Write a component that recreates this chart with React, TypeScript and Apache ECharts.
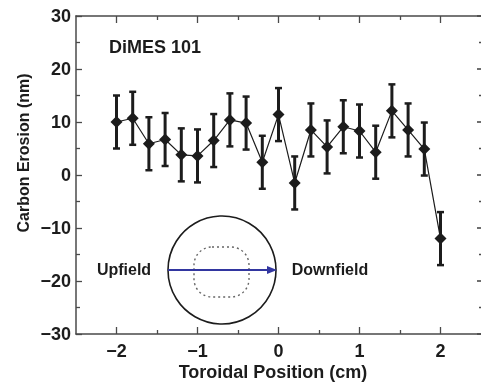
import React, { useEffect, useRef } from "react";
import * as echarts from "echarts";

const positions = [-2, -1.8, -1.6, -1.4, -1.2, -1.0, -0.8, -0.6, -0.4, -0.2, 0, 0.2, 0.4, 0.6, 0.8, 1.0, 1.2, 1.4, 1.6, 1.8, 2.0];
const erosion = [10.0, 10.7, 5.9, 6.7, 3.8, 3.6, 6.5, 10.4, 9.8, 2.4, 11.4, -1.5, 8.5, 5.3, 9.1, 8.3, 4.3, 12.1, 8.5, 4.9, -12.0];
const errors = [5.0, 5.0, 5.0, 5.0, 5.0, 5.0, 5.0, 5.0, 5.0, 5.0, 5.0, 5.0, 5.0, 5.0, 5.0, 5.0, 5.0, 5.0, 5.0, 5.0, 5.0];
const xMajorTicks = [-2, -1, 0, 1, 2];
const xMinorTicks = [-1.5, -0.5, 0.5, 1.5];

const FONT = "'Liberation Sans', Arial, sans-serif";
const INK = "#1c1c1c";
const AXIS = "#4a4a4a";

const fmt = (v: number) => (v < 0 ? "\u2212" + Math.abs(v) : String(v));

export default function App() {
  const ref = useRef<HTMLDivElement>(null);
  useEffect(() => {
    if (!ref.current) return;
    const chart = echarts.init(ref.current, undefined, { renderer: "svg" });
    const baseX = {
      type: "value",
      min: -2.5,
      max: 2.5,
      gridIndex: 0,
      splitLine: { show: false },
    };
    const baseY = {
      type: "value",
      min: -30,
      max: 30,
      interval: 10,
      splitLine: { show: false },
    };
    const line = (show: boolean) => ({ show, onZero: false, lineStyle: { color: AXIS, width: 1.5 } });
    chart.setOption({
      animation: false,
      grid: { left: 76, right: 0, top: 16, bottom: 53 },
      xAxis: [
        {
          ...baseX,
          position: "bottom",
          axisLine: line(true),
          axisTick: { show: true, inside: true, length: 7, customValues: xMajorTicks, lineStyle: { color: AXIS, width: 1.3 } },
          axisLabel: {
            show: true,
            customValues: xMajorTicks,
            formatter: (v: number) => fmt(v),
            fontFamily: FONT,
            fontWeight: "bold",
            fontSize: 18,
            color: INK,
            margin: 8,
          },
        },
        {
          ...baseX,
          position: "bottom",
          axisLine: line(false),
          axisTick: { show: true, inside: true, length: 4, customValues: xMinorTicks, lineStyle: { color: AXIS, width: 1.3 } },
          axisLabel: { show: false },
        },
        {
          ...baseX,
          position: "top",
          axisLine: line(true),
          axisTick: { show: true, inside: true, length: 7, customValues: xMajorTicks, lineStyle: { color: AXIS, width: 1.3 } },
          axisLabel: { show: false },
        },
        {
          ...baseX,
          position: "top",
          axisLine: line(false),
          axisTick: { show: true, inside: true, length: 4, customValues: xMinorTicks, lineStyle: { color: AXIS, width: 1.3 } },
          axisLabel: { show: false },
        },
      ],
      yAxis: [
        {
          ...baseY,
          position: "left",
          axisLine: line(true),
          axisTick: { show: true, inside: true, length: 6, lineStyle: { color: AXIS, width: 1.3 } },
          minorTick: { show: true, splitNumber: 2, length: 4, lineStyle: { color: AXIS, width: 1.3 } },
          axisLabel: {
            formatter: (v: number) => fmt(v),
            fontFamily: FONT,
            fontWeight: "bold",
            fontSize: 18,
            color: INK,
            margin: 5,
          },
        },
        {
          ...baseY,
          position: "right",
          axisLine: line(false),
          axisTick: { show: true, inside: true, length: 4, lineStyle: { color: AXIS, width: 1.6 } },
          minorTick: { show: true, splitNumber: 2, length: 2, lineStyle: { color: AXIS, width: 1.3 } },
          axisLabel: { show: false },
        },
      ],
      series: [
        {
          type: "custom",
          xAxisIndex: 0,
          yAxisIndex: 0,
          z: 2,
          encode: { x: 0, y: [1, 2] },
          data: positions.map((p, i) => [p, erosion[i] - errors[i], erosion[i] + errors[i]]),
          renderItem: (params: any, api: any) => {
            const x = api.value(0);
            const lo = api.coord([x, api.value(1)]);
            const hi = api.coord([x, api.value(2)]);
            const half = 3.5;
            return {
              type: "group",
              children: [
                { type: "line", shape: { x1: hi[0], y1: hi[1], x2: lo[0], y2: lo[1] }, style: { stroke: INK, lineWidth: 3 } },
                { type: "line", shape: { x1: hi[0] - half, y1: hi[1], x2: hi[0] + half, y2: hi[1] }, style: { stroke: INK, lineWidth: 2.5 } },
                { type: "line", shape: { x1: lo[0] - half, y1: lo[1], x2: lo[0] + half, y2: lo[1] }, style: { stroke: INK, lineWidth: 2.5 } },
              ],
            };
          },
        },
        {
          type: "line",
          xAxisIndex: 0,
          yAxisIndex: 0,
          z: 3,
          data: positions.map((p, i) => [p, erosion[i]]),
          symbol: "diamond",
          symbolSize: 12,
          itemStyle: { color: INK },
          lineStyle: { color: INK, width: 1.2 },
        },
      ],
      graphic: [
        {
          type: "text",
          left: 109,
          top: 38,
          style: { text: "DiMES 101", font: `bold 18px ${FONT}`, fill: INK },
        },
        {
          type: "text",
          x: 23,
          y: 153,
          rotation: Math.PI / 2,
          style: { text: "Carbon Erosion (nm)", font: `bold 16px ${FONT}`, fill: INK, textAlign: "center", textVerticalAlign: "middle" },
        },
        {
          type: "text",
          x: 273,
          y: 372,
          style: { text: "Toroidal Position (cm)", font: `bold 18px ${FONT}`, fill: INK, textAlign: "center", textVerticalAlign: "middle" },
        },
        {
          type: "circle",
          shape: { cx: 222, cy: 270, r: 54 },
          style: { fill: "none", stroke: INK, lineWidth: 1.6 },
        },
        {
          type: "rect",
          shape: { x: 194, y: 247, width: 55, height: 50, r: 18 },
          style: { fill: "none", stroke: "#666", lineWidth: 1.4, lineDash: [2, 3] },
        },
        {
          type: "line",
          shape: { x1: 168, y1: 270, x2: 270, y2: 270 },
          style: { stroke: "#3236a0", lineWidth: 2.2 },
        },
        {
          type: "polygon",
          shape: { points: [[267, 266], [277, 270], [267, 274]] },
          style: { fill: "#3236a0" },
        },
        {
          type: "text",
          x: 124,
          y: 269,
          style: { text: "Upfield", font: `bold 16px ${FONT}`, fill: INK, textAlign: "center", textVerticalAlign: "middle" },
        },
        {
          type: "text",
          x: 330,
          y: 269,
          style: { text: "Downfield", font: `bold 16px ${FONT}`, fill: INK, textAlign: "center", textVerticalAlign: "middle" },
        },
      ],
    });
    return () => chart.dispose();
  }, []);
  return <div ref={ref} style={{ position: "fixed", left: 0, top: 0, width: 481, height: 387 }} />;
}
